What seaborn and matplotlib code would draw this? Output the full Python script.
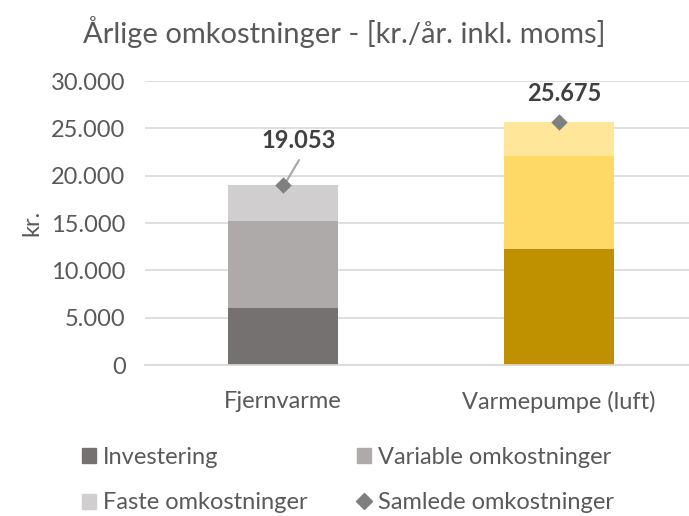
import matplotlib
matplotlib.use("Agg")
import matplotlib.pyplot as plt
import seaborn as sns
import numpy as np
import pandas as pd
from matplotlib.patches import Patch
from matplotlib.lines import Line2D

categories = ["Fjernvarme", "Varmepumpe (luft)"]
investering = [6000, 12250]
variable = [9200, 9820]
faste = [3853, 3605]
samlede = [19053, 25675]
samlede_labels = ["19.053", "25.675"]
yticks = [0, 5000, 10000, 15000, 20000, 25000, 30000]
ytick_labels = ["0", "5.000", "10.000", "15.000", "20.000", "25.000", "30.000"]

sns.set_theme(style="white")
plt.rcParams['font.family'] = ['Lato', 'DejaVu Sans']

fig = plt.figure(figsize=(6.89, 5.16), dpi=100)
ax = fig.add_axes([145/689, 1-365/516, 1-145/689, (365-81)/516])

col_inv = ["#767171", "#BF9000"]
col_var = ["#AEAAAA", "#FFD966"]
col_fas = ["#D0CECE", "#FFE699"]

cum1 = np.array(investering)
cum2 = cum1 + np.array(variable)
cum3 = cum2 + np.array(faste)

for vals, cols in [(cum3, col_fas), (cum2, col_var), (cum1, col_inv)]:
    df = pd.DataFrame({"cat": categories, "val": vals})
    sns.barplot(data=df, x="cat", y="val", hue="cat", palette=cols, width=0.4,
                saturation=1, legend=False, ax=ax, zorder=2, linewidth=0)

dfs = pd.DataFrame({"cat": categories, "val": samlede})
sns.scatterplot(data=dfs, x="cat", y="val", marker="D", color="#7F7F7F", s=70,
                ax=ax, zorder=4, linewidth=0)

FS = 17
ax.set_xlim(-0.5, (689-145)/276 - 0.5)
ax.set_ylim(0, 30000)
ax.set_yticks(yticks)
ax.set_yticklabels(ytick_labels)
ax.yaxis.grid(True, color="#D9D9D9", linewidth=1.2, zorder=0)
ax.set_axisbelow(True)
for s in ["top", "right", "left"]:
    ax.spines[s].set_visible(False)
ax.spines["bottom"].set_color("#D9D9D9")
ax.spines["bottom"].set_linewidth(1.2)
ax.tick_params(axis="y", length=0, labelsize=FS, labelcolor="#595959", pad=14)
ax.tick_params(axis="x", length=0, labelsize=FS, labelcolor="#595959", pad=19)
ax.set_xlabel("")
ax.set_ylabel("kr.", fontsize=FS, color="#595959", labelpad=6)

# data labels
ax.text(0.055, 23700, samlede_labels[0], ha="center", va="center", fontsize=FS,
        fontweight="bold", color="#404040")
ax.annotate("", xy=(0.011, 19330), xytext=(0.058, 21650),
            arrowprops=dict(arrowstyle="-", color="#A6A6A6", lw=1.5, shrinkA=0, shrinkB=0),
            zorder=3)
ax.text(0.02 + 1, 28700, samlede_labels[1], ha="center", va="center", fontsize=FS,
        fontweight="bold", color="#404040")

fig.text(0.5, 1-32/516, "Årlige omkostninger - [kr./år. inkl. moms]", ha="center", va="center",
         fontsize=21, color="#595959")

handles = [Patch(color="#767171"), Patch(color="#AEAAAA"), Patch(color="#D0CECE"),
           Line2D([], [], marker="D", color="#7F7F7F", linestyle="none", markersize=8)]
labels = ["Investering", "Variable omkostninger", "Faste omkostninger", "Samlede omkostninger"]
order = [0, 2, 1, 3]
leg = fig.legend([handles[i] for i in order], [labels[i] for i in order], ncol=2,
                 loc="center", bbox_to_anchor=(0.505, 1-480/516), frameon=False,
                 fontsize=FS, handlelength=0.6, handleheight=0.6, handletextpad=0.3,
                 columnspacing=2.1, labelspacing=1.05, labelcolor="#595959")

fig.savefig("out.png", dpi=100)
